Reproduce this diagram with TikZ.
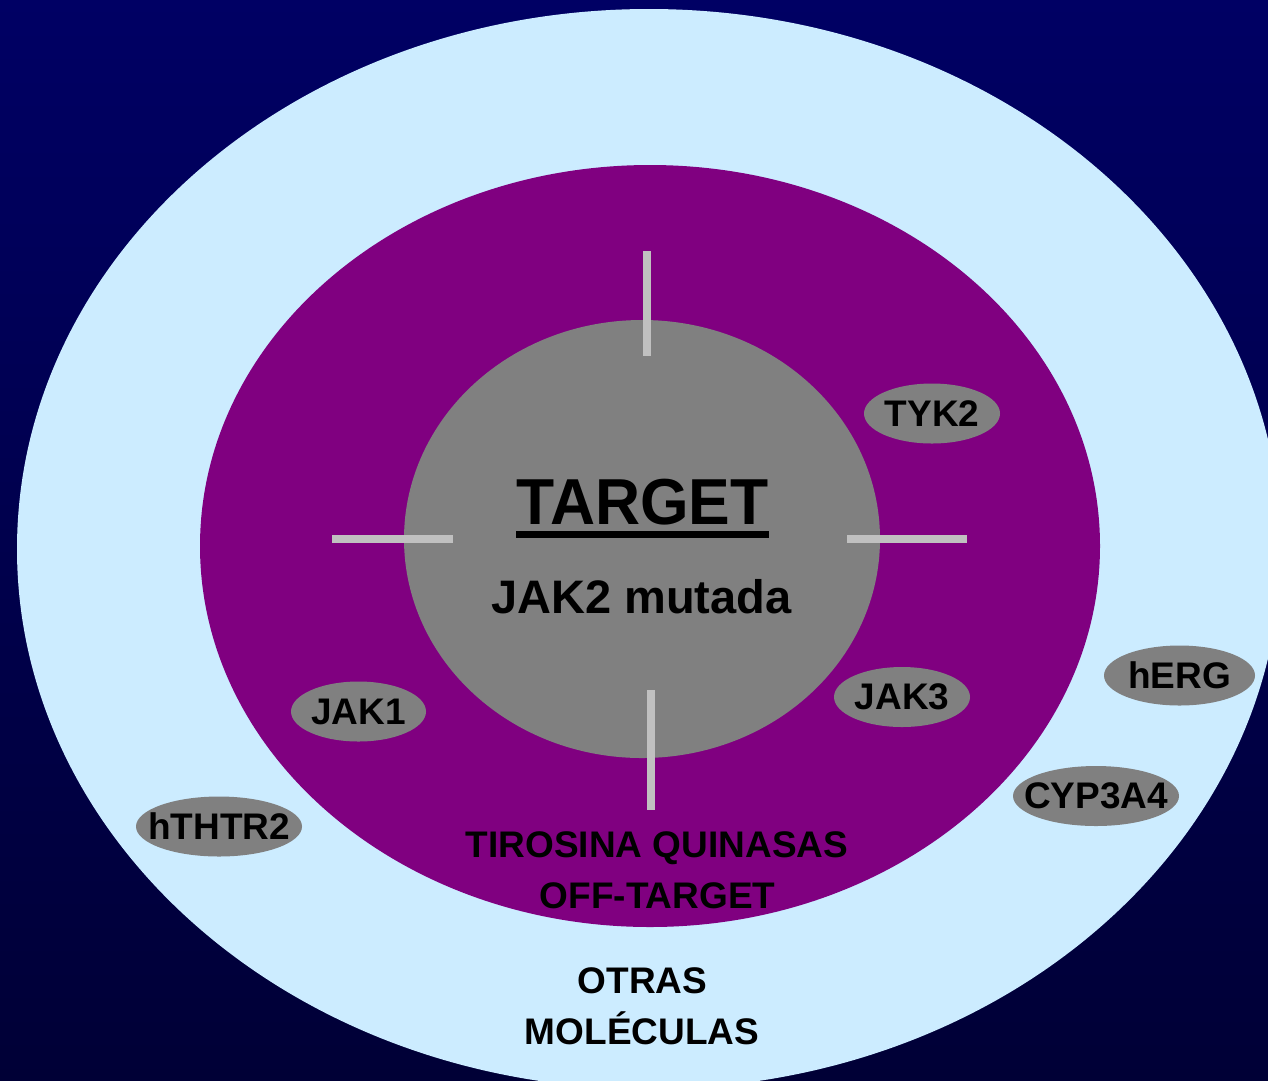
\documentclass[tikz,border=0pt]{standalone}
\usepackage{fontspec}
\usepackage{graphicx}
\setmainfont{Liberation Sans}
\usetikzlibrary{shapes.geometric}
\definecolor{bgtop}{HTML}{000064}
\definecolor{bgbot}{HTML}{000036}
\definecolor{ltblue}{HTML}{CCECFF}
\definecolor{purp}{HTML}{800080}
\definecolor{grey}{HTML}{808080}
\definecolor{tickc}{HTML}{C0C0C0}
\tikzset{
  ring/.style={ellipse, inner sep=0pt, outer sep=0pt, draw=none},
  tag/.style={ellipse, fill=grey, inner sep=0pt, outer sep=0pt, minimum height=60pt,
              font=\fontsize{37}{40}\selectfont\bfseries},
  lbl/.style={inner sep=0pt, anchor=base, font=\fontsize{37}{40}\selectfont\bfseries},
  tickline/.style={draw=tickc, line width=8pt},
}
\begin{document}
\begin{tikzpicture}[x=1pt,y=-1pt]
\useasboundingbox (0,0) rectangle (1268,1080);
\clip (0,0) rectangle (1268,1080);
\shade[top color=bgtop, bottom color=bgbot] (0,0) rectangle (1268,1080);
% rings
\node[ring, fill=ltblue, minimum width=1264pt, minimum height=1080pt] (outer) at (649,549) {};
\node[ring, fill=purp, minimum width=900pt, minimum height=762pt] (offt) at (650,546) {};
\node[ring, fill=grey, minimum width=476pt, minimum height=438pt] (tgt) at (642,539) {};
% cross marks
\draw[tickline] (647,251) -- (647,356);
\draw[tickline] (651,690) -- (651,810);
\draw[tickline] (332,538.5) -- (453,538.5);
\draw[tickline] (847,538.5) -- (967,538.5);
% centre texts
\node[lbl, font=\fontsize{65}{70}\selectfont\bfseries] (target) at (642.5,524) {\scalebox{0.96}[1]{TARGET}};
\fill ([yshift=-7pt]target.base west) rectangle ([yshift=-14pt]target.base east);
\node[lbl, font=\fontsize{47}{52}\selectfont\bfseries] (jak2) at (641.5,613) {JAK2 mutada};
% ring labels
\node[lbl] (tq1) at (657,857) {TIROSINA QUINASAS};
\node[lbl] (tq2) at (657.5,908) {OFF-TARGET};
\node[lbl] (om1) at (642.5,993) {OTRAS};
\node[lbl] (om2) at (642,1044) {MOLÉCULAS};
% small tags
\node[tag, minimum width=136pt] (tyk2) at (932,413.5) {\makebox[0pt]{TYK2}};
\node[tag, minimum width=136pt] (jak3) at (902,697) {\makebox[0pt]{JAK3}};
\node[tag, minimum width=135pt] (jak1) at (358.5,711.5) {\makebox[0pt]{JAK1}};
\node[tag, minimum width=166pt] (hthtr) at (219,826.5) {\makebox[0pt]{hTHTR2}};
\node[tag, minimum width=151pt] (herg) at (1179.5,675.5) {\makebox[0pt]{hERG}};
\node[tag, minimum width=166pt] (cyp) at (1096,796) {\makebox[0pt]{CYP3A4}};
\end{tikzpicture}
\end{document}
